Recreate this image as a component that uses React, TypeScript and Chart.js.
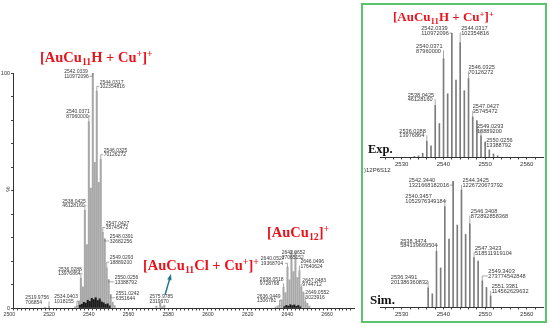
import React, { useEffect, useRef } from 'react';
import { Chart, registerables } from 'chart.js';

Chart.register(...registerables);

const SANS = '"Liberation Sans", Arial, Helvetica, sans-serif';
const SERIF = '"Liberation Serif", "Times New Roman", serif';
const RED = '#e8141c';
const GREEN = '#5cc46c';
const TEAL = '#1a7488';
Chart.defaults.font.family = SANS;

// ---------------- data ----------------
// [AuCu11H + Cu+]+ cluster: labelled peaks (m/z, absolute abundance)
const hLabelMass = [2534.0403, 2536.0288, 2538.0425, 2540.0371, 2542.0339, 2544.0317, 2546.0325, 2547.0427, 2548.0391, 2549.0293, 2550.0256, 2551.0242];
const hLabelAbund = [1018155, 13976864, 46128160, 87960000, 110972096, 102354816, 70126272, 35745472, 32682256, 18889200, 13388792, 6351644];
// unlabelled isotope peaks of the same cluster (% of base peak)
const hOtherMass = [2533.04, 2535.04, 2537.04, 2539.04, 2541.03, 2543.03, 2545.03, 2552.03, 2553.03];
const hOtherPct = [0.5, 3.0, 9.0, 27.0, 51.0, 62.0, 53.5, 2.5, 1.0];

// small side peaks
const sideLabelMass = [2519.9756, 2575.9785];
const sideLabelAbund = [706854, 2319670];
const sideOtherMass = [2518.0, 2574.0, 2577.0, 2578.0];
const sideOtherPct = [0.3, 0.8, 0.6, 1.2];

// [AuCu12]+ cluster
const cu12LabelMass = [2636.0449, 2638.0518, 2640.0527, 2642.0652, 2646.0496, 2647.0483, 2649.0552];
const cu12LabelAbund = [1306781, 9728768, 19368704, 27065152, 17640624, 9744712, 3023916];
const cu12OtherMass = [2634.05, 2635.05, 2637.05, 2639.05, 2641.06, 2643.06, 2644.06, 2645.05, 2648.05, 2650.05, 2651.05];
const cu12OtherPct = [0.4, 0.8, 3.5, 6.5, 12.0, 15.5, 24.0, 13.0, 6.8, 2.0, 0.8];

// dark low-level peaks under the clusters (% of base peak)
const minorMass = [2535.5, 2536.5, 2537.5, 2538.5, 2539.5, 2540.5, 2541.5, 2542.5, 2543.5, 2544.5, 2545.5, 2546.5, 2547.5, 2548.5, 2549.5, 2550.5, 2638.5, 2639.5, 2640.5, 2641.5, 2642.5, 2643.5, 2644.5, 2645.5, 2646.5];
const minorPct = [1.2, 1.6, 2.4, 2.1, 3.3, 2.8, 4.1, 3.6, 4.4, 3.2, 3.9, 2.6, 2.2, 1.5, 1.8, 0.9, 0.6, 1.1, 0.8, 1.4, 1.0, 1.3, 0.7, 1.1, 0.5];

// simulated pattern
const simLabelMass = [2536.3491, 2538.3474, 2540.3457, 2542.344, 2544.3425, 2546.3408, 2547.3423, 2549.3403, 2551.3381];
const simLabelAbund = [201386360832, 584139669504, 1052976349184, 1321668182016, 1226720673792, 872892858368, 518511919104, 273774542848, 114562629632];
const simOtherMass = [2537.35, 2539.35, 2541.35, 2543.34, 2545.34, 2548.34, 2550.34];
const simOtherPct = [10.5, 31.0, 54.0, 65.0, 57.6, 36.5, 15.5];

const EXP_BASE = 110972096;
const SIM_BASE = 1321668182016;

// tick labels
const leftXTicks = [2500, 2520, 2540, 2560, 2580, 2600, 2620, 2640, 2660];
const leftYTicks = [0, 100];
const insetXTicks = [2530, 2540, 2550, 2560];

// ---------------- label layout (annotation placement) ----------------
type Lay = { m: number; side: 'L' | 'R' | 'C'; dx: number; dy: number };
const leftLabelLayout: Lay[] = [
  { m: 2519.9756, side: 'L', dx: 0, dy: -3 },
  { m: 2534.0403, side: 'L', dx: 1, dy: -3 },
  { m: 2536.0288, side: 'L', dx: 1, dy: -3 },
  { m: 2538.0425, side: 'L', dx: 1, dy: -3 },
  { m: 2540.0371, side: 'L', dx: 1, dy: -4 },
  { m: 2542.0339, side: 'L', dx: -4, dy: 5 },
  { m: 2544.0317, side: 'R', dx: 3, dy: -3 },
  { m: 2546.0325, side: 'R', dx: 3, dy: -3 },
  { m: 2547.0427, side: 'R', dx: 3, dy: -3 },
  { m: 2548.0391, side: 'R', dx: 5, dy: 4 },
  { m: 2549.0293, side: 'R', dx: 3, dy: -4 },
  { m: 2550.0256, side: 'R', dx: 6, dy: 4 },
  { m: 2551.0242, side: 'R', dx: 5, dy: 5 },
  { m: 2575.9785, side: 'C', dx: 1, dy: 0 },
  { m: 2636.0449, side: 'L', dx: 1, dy: -3 },
  { m: 2638.0518, side: 'L', dx: 0, dy: -2 },
  { m: 2640.0527, side: 'L', dx: -3, dy: -2 },
  { m: 2642.0652, side: 'C', dx: 2, dy: 8 },
  { m: 2646.0496, side: 'R', dx: 1, dy: -3 },
  { m: 2647.0483, side: 'R', dx: 1, dy: -1 },
  { m: 2649.0552, side: 'R', dx: 0, dy: -3 },
];
const expLabelLayout: Lay[] = [
  { m: 2536.0288, side: 'L', dx: -1, dy: -4 },
  { m: 2538.0425, side: 'L', dx: -1, dy: -4 },
  { m: 2540.0371, side: 'L', dx: -1, dy: -6 },
  { m: 2542.0339, side: 'L', dx: -3, dy: 2 },
  { m: 2544.0317, side: 'R', dx: 1, dy: -8 },
  { m: 2546.0325, side: 'R', dx: 0, dy: -5 },
  { m: 2547.0427, side: 'R', dx: 0, dy: -4 },
  { m: 2549.0293, side: 'R', dx: -4, dy: -3 },
  { m: 2550.0256, side: 'R', dx: 1, dy: 5 },
];
const simLabelLayout: Lay[] = [
  { m: 2536.3491, side: 'L', dx: 0, dy: -4 },
  { m: 2538.3474, side: 'L', dx: 1, dy: -4 },
  { m: 2540.3457, side: 'L', dx: 1, dy: -4 },
  { m: 2542.344, side: 'L', dx: -4, dy: 6 },
  { m: 2544.3425, side: 'R', dx: 1, dy: -3 },
  { m: 2546.3408, side: 'R', dx: 1, dy: -6 },
  { m: 2547.3423, side: 'R', dx: 1, dy: -3 },
  { m: 2549.3403, side: 'R', dx: 6, dy: -3 },
  { m: 2551.3381, side: 'R', dx: 1, dy: -3 },
];

// ---------------- helpers ----------------
type Pt = { x: number; y: number };
function pctPoints(mass: number[], abund: number[], base: number): Pt[] {
  return mass.map((m, i) => ({ x: m, y: (abund[i] / base) * 100 }));
}
function rawPoints(mass: number[], pct: number[]): Pt[] {
  return mass.map((m, i) => ({ x: m, y: pct[i] }));
}

type LabelItem = { m: number; pct: number; t1: string; t2: string; side: 'L' | 'R' | 'C'; dx: number; dy: number };
function buildLabels(layout: Lay[], mass: number[], abund: number[], base: number): LabelItem[] {
  return layout.map((l) => {
    const i = mass.indexOf(l.m);
    return { ...l, pct: (abund[i] / base) * 100, t1: l.m.toFixed(4), t2: String(abund[i]) };
  });
}

function peakLabelPlugin(id: string, items: LabelItem[], size: number, gap: number) {
  return {
    id,
    afterDatasetsDraw(chart: any) {
      const { ctx } = chart;
      const xs = chart.scales.x;
      const ys = chart.scales.y;
      ctx.save();
      ctx.font = `${size}px ${SANS}`;
      ctx.fillStyle = '#3a3a3a';
      ctx.strokeStyle = '#707070';
      ctx.lineWidth = 0.6;
      ctx.textBaseline = 'alphabetic';
      ctx.textAlign = 'left';
      for (const it of items) {
        const px = xs.getPixelForValue(it.m);
        const py = ys.getPixelForValue(it.pct);
        const w = Math.max(ctx.measureText(it.t1).width, ctx.measureText(it.t2).width);
        const bottom = py + it.dy;
        const left = it.side === 'L' ? px + it.dx - w : it.side === 'R' ? px + it.dx : px + it.dx - w / 2;
        ctx.fillText(it.t1, left, bottom - gap);
        ctx.fillText(it.t2, left, bottom);
        ctx.beginPath();
        if (it.side === 'C') {
          if (py > bottom + 2) {
            ctx.moveTo(px, bottom + 1);
            ctx.lineTo(px, py);
          }
        } else {
          const cy = bottom - size * 0.35;
          const ex = it.side === 'L' ? left + w + 0.5 : left - 0.5;
          ctx.moveTo(ex, cy);
          ctx.lineTo(px, cy);
          ctx.lineTo(px, py);
        }
        ctx.stroke();
      }
      ctx.restore();
    },
  };
}

const leftXLabelPlugin = {
  id: 'leftXLabels',
  afterDraw(chart: any) {
    const { ctx } = chart;
    const xs = chart.scales.x;
    ctx.save();
    ctx.font = `5.2px ${SANS}`;
    ctx.fillStyle = '#333';
    ctx.textAlign = 'center';
    ctx.textBaseline = 'middle';
    for (const v of leftXTicks) {
      ctx.fillText(String(v), xs.getPixelForValue(v), chart.chartArea.bottom + 6.5);
    }
    ctx.restore();
  },
};

function barConfig(opts: {
  points: Pt[];
  colors: string[];
  thickness: number;
  xMin: number;
  xMax: number;
  xStep: number;
  padding: { left: number; right: number; top: number; bottom: number };
  xHeight: number;
  xLabels: (v: number) => string;
  xFont: number;
  showY: boolean;
  plugins: any[];
}) {
  return {
    type: 'bar',
    data: {
      datasets: [
        {
          data: opts.points,
          backgroundColor: opts.colors,
          borderWidth: 0,
          barThickness: opts.thickness,
        },
      ],
    },
    options: {
      responsive: false,
      maintainAspectRatio: false,
      animation: false,
      events: [],
      layout: { padding: opts.padding },
      plugins: { legend: { display: false }, tooltip: { enabled: false } },
      scales: {
        x: {
          type: 'linear',
          min: opts.xMin,
          max: opts.xMax,
          offset: false,
          grid: { display: true, drawOnChartArea: false, drawTicks: true, tickLength: 2.5, tickColor: '#444', offset: false },
          border: { display: true, color: '#333', width: 1 },
          ticks: {
            stepSize: opts.xStep,
            autoSkip: false,
            includeBounds: false,
            maxRotation: 0,
            minRotation: 0,
            padding: 1,
            color: '#333',
            font: { size: opts.xFont, family: SANS },
            callback: (v: any) => opts.xLabels(Number(v)),
          },
          afterFit: (s: any) => {
            s.height = opts.xHeight;
          },
        },
        y: {
          display: opts.showY,
          min: 0,
          max: 100,
          stacked: false,
          grid: { display: true, drawOnChartArea: false, drawTicks: true, tickLength: 2, tickColor: '#444' },
          border: { display: true, color: '#333', width: 1 },
          ticks: {
            stepSize: 10,
            autoSkip: false,
            padding: 1,
            color: '#333',
            font: { size: 5.5, family: SANS },
            callback: (v: any) => (leftYTicks.includes(Number(v)) ? String(v) : ''),
          },
          afterFit: (s: any) => {
            s.width = 13;
          },
        },
      },
    },
    plugins: opts.plugins,
  } as any;
}

function makeLeft() {
  const gray = [
    ...pctPoints(hLabelMass, hLabelAbund, EXP_BASE),
    ...rawPoints(hOtherMass, hOtherPct),
    ...pctPoints(sideLabelMass, sideLabelAbund, EXP_BASE),
    ...rawPoints(sideOtherMass, sideOtherPct),
    ...pctPoints(cu12LabelMass, cu12LabelAbund, EXP_BASE),
    ...rawPoints(cu12OtherMass, cu12OtherPct),
  ];
  const dark = rawPoints(minorMass, minorPct);
  const points = [...gray, ...dark];
  const colors = [...gray.map(() => '#a8a8a8'), ...dark.map(() => '#1a1a1a')];
  const allMass = [...hLabelMass, ...sideLabelMass, ...cu12LabelMass];
  const allAbund = [...hLabelAbund, ...sideLabelAbund, ...cu12LabelAbund];
  const labels = buildLabels(leftLabelLayout, allMass, allAbund, EXP_BASE);
  return barConfig({
    points,
    colors,
    thickness: 1.4,
    xMin: 2501.85,
    xMax: 2673.55,
    xStep: 2,
    padding: { left: 0, right: 6, top: 73, bottom: 0 },
    xHeight: 20,
    xLabels: () => '',
    xFont: 5,
    showY: true,
    plugins: [peakLabelPlugin('leftLabels', labels, 5, 4.6), leftXLabelPlugin],
  });
}

function makeExp() {
  const pts = [...pctPoints(hLabelMass, hLabelAbund, EXP_BASE), ...rawPoints(hOtherMass, hOtherPct)];
  const labels = buildLabels(expLabelLayout, hLabelMass, hLabelAbund, EXP_BASE);
  return barConfig({
    points: pts,
    colors: pts.map(() => '#7c7c7c'),
    thickness: 1,
    xMin: 2524.8,
    xMax: 2563.9,
    xStep: 2,
    padding: { left: 5, right: 3, top: 29, bottom: 0 },
    xHeight: 11,
    xLabels: (v) => (insetXTicks.includes(v) ? String(v) : ''),
    xFont: 6,
    showY: false,
    plugins: [peakLabelPlugin('expLabels', labels, 5.6, 4.6)],
  });
}

function makeSim() {
  const pts = [...pctPoints(simLabelMass, simLabelAbund, SIM_BASE), ...rawPoints(simOtherMass, simOtherPct)];
  const labels = buildLabels(simLabelLayout, simLabelMass, simLabelAbund, SIM_BASE);
  return barConfig({
    points: pts,
    colors: pts.map(() => '#7c7c7c'),
    thickness: 1,
    xMin: 2524.8,
    xMax: 2563.9,
    xStep: 2,
    padding: { left: 5, right: 3, top: 13, bottom: 0 },
    xHeight: 15,
    xLabels: (v) => (insetXTicks.includes(v) ? String(v) : ''),
    xFont: 6,
    showY: false,
    plugins: [peakLabelPlugin('simLabels', labels, 5.6, 4.8)],
  });
}

function ChartCanvas({ left, top, width, height, make }: { left: number; top: number; width: number; height: number; make: () => any }) {
  const ref = useRef<HTMLCanvasElement>(null);
  useEffect(() => {
    const chart = new Chart(ref.current as HTMLCanvasElement, make());
    return () => chart.destroy();
  }, []);
  return <canvas ref={ref} width={width} height={height} style={{ position: 'absolute', left, top, width, height }} />;
}

const Sub = ({ children }: { children: any }) => (
  <span style={{ fontSize: '0.68em', position: 'relative', top: '0.3em' }}>{children}</span>
);
const Sup = ({ children }: { children: any }) => (
  <span style={{ fontSize: '0.68em', position: 'relative', top: '-0.45em' }}>{children}</span>
);

function Formula({ x, baseline, size, children }: { x: number; baseline: number; size: number; children: any }) {
  return (
    <div
      style={{
        position: 'absolute',
        left: x,
        top: baseline - 0.84 * size,
        fontFamily: SERIF,
        fontWeight: 'bold',
        fontSize: size,
        lineHeight: 1,
        color: RED,
        whiteSpace: 'nowrap',
      }}
    >
      {children}
    </div>
  );
}

export default function App() {
  return (
    <div style={{ position: 'fixed', left: 0, top: 0, width: 550, height: 328, background: '#fff', overflow: 'hidden' }}>
      <ChartCanvas left={0} top={0} width={360} height={328} make={makeLeft} />
      <ChartCanvas left={362} top={4} width={184} height={164} make={makeExp} />
      <ChartCanvas left={362} top={168} width={184} height={154} make={makeSim} />

      <div
        style={{
          position: 'absolute',
          left: 361,
          top: 3,
          width: 186,
          height: 320,
          border: `2px solid ${GREEN}`,
          boxSizing: 'border-box',
        }}
      />

      <Formula x={40} baseline={62} size={14.5}>
        [AuCu<Sub>11</Sub>H + Cu<Sup>+</Sup>]<Sup>+</Sup>
      </Formula>
      <Formula x={143} baseline={270} size={14.5}>
        [AuCu<Sub>11</Sub>Cl + Cu<Sup>+</Sup>]<Sup>+</Sup>
      </Formula>
      <Formula x={267} baseline={237} size={14.5}>
        [AuCu<Sub>12</Sub>]<Sup>+</Sup>
      </Formula>
      <Formula x={393} baseline={21} size={13}>
        [AuCu<Sub>11</Sub>H + Cu<Sup>+</Sup>]<Sup>+</Sup>
      </Formula>

      <div style={{ position: 'absolute', left: 368, top: 153 - 0.84 * 12.5, fontFamily: SERIF, fontWeight: 'bold', fontSize: 12.5, lineHeight: 1, color: '#111' }}>
        Exp.
      </div>
      <div style={{ position: 'absolute', left: 370, top: 304 - 0.84 * 13, fontFamily: SERIF, fontWeight: 'bold', fontSize: 13, lineHeight: 1, color: '#111' }}>
        Sim.
      </div>
      <div style={{ position: 'absolute', left: 364, top: 167, fontFamily: SANS, fontSize: 6, lineHeight: 1, color: '#333', whiteSpace: 'nowrap' }}>
        )12P6S12
      </div>
      <div
        style={{
          position: 'absolute',
          left: 5,
          top: 186,
          fontFamily: SANS,
          fontSize: 6,
          lineHeight: 1,
          color: '#333',
          transform: 'rotate(-90deg)',
        }}
      >
        %
      </div>

      <svg width={550} height={328} style={{ position: 'absolute', left: 0, top: 0, pointerEvents: 'none' }}>
        <line x1={165} y1={295} x2={169.4} y2={279.8} stroke={TEAL} strokeWidth={1.4} />
        <polygon points="171,274 167.2,279.2 171.5,280.4" fill={TEAL} />
      </svg>
    </div>
  );
}
